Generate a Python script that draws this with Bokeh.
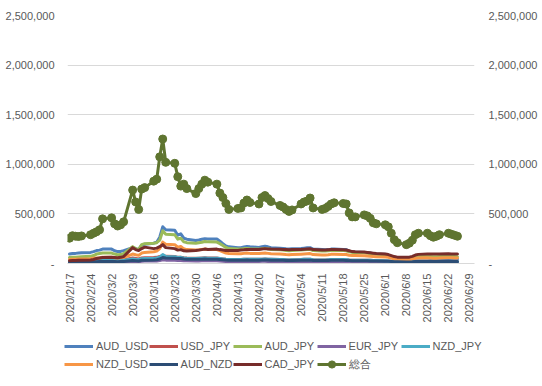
import math
import pandas as pd
from bokeh.plotting import figure
from bokeh.layouts import column
from bokeh.models import (ColumnDataSource, Range1d, LinearAxis, FixedTicker,
                          CustomJSTickFormatter, Legend, LegendItem)
from bokeh.embed import file_html
from bokeh.resources import INLINE

# ---- data (values in thousands) ----
dates = pd.bdate_range("2020-02-17", "2020-06-25")
tick_dates = pd.date_range("2020-02-17", "2020-06-29", freq="7D")

AUD_USD = [95, 100, 102, 105, 108, 112, 120, 130, 135, 145, 145, 128, 120, 122, 130,
           160, 150, 140, 185, 195, 205, 215, 265, 370, 340, 335, 285, 300, 255, 245,
           232, 238, 245, 250, 248, 248, 225, 200, 178, 168, 160, 160, 166, 172, 168,
           162, 170, 175, 168, 160, 155, 152, 148, 145, 148, 152, 155, 158, 160, 145,
           140, 138, 140, 145, 146, 142, 140, 125, 118, 115, 112, 110, 105, 98, 95,
           92, 85, 72, 60, 55, 45, 45, 48, 52, 55, 52, 50, 48, 48, 50, 48, 46, 45, 45]
USD_JPY = [18, 20, 20, 22, 22, 25, 28, 30, 30, 35, 38, 35, 32, 34, 36,
           55, 50, 45, 55, 58, 60, 62, 70, 80, 72, 70, 62, 64, 58, 55,
           52, 54, 56, 58, 56, 55, 50, 46, 42, 40, 40, 40, 42, 44, 42,
           42, 44, 45, 43, 42, 40, 40, 38, 36, 38, 40, 42, 42, 44, 38,
           36, 36, 38, 40, 40, 40, 40, 36, 34, 34, 34, 33, 32, 30, 30,
           28, 26, 22, 18, 16, 15, 15, 16, 18, 20, 20, 19, 18, 18, 19, 20, 19, 19, 18]
AUD_JPY = [60, 62, 64, 66, 68, 72, 80, 95, 100, 105, 105, 95, 88, 90, 100,
           170, 150, 140, 190, 200, 205, 210, 235, 330, 295, 290, 245, 255, 218, 210,
           205, 210, 215, 222, 218, 216, 200, 182, 162, 150, 146, 146, 150, 152, 148,
           145, 150, 152, 148, 142, 138, 136, 132, 128, 132, 136, 138, 140, 142, 130,
           126, 126, 128, 132, 132, 130, 128, 118, 112, 110, 108, 104, 100, 95, 92,
           88, 82, 72, 62, 56, 54, 55, 60, 66, 70, 72, 70, 68, 68, 70, 72, 70, 70, 68]
EUR_JPY = [8, 8, 9, 9, 10, 10, 11, 12, 12, 14, 14, 13, 12, 13, 14,
           20, 18, 17, 22, 24, 25, 26, 30, 38, 34, 33, 30, 30, 28, 27,
           26, 26, 27, 28, 27, 27, 25, 23, 21, 20, 20, 20, 21, 22, 21,
           21, 22, 22, 21, 20, 20, 19, 19, 18, 19, 20, 21, 21, 22, 19,
           18, 18, 19, 20, 20, 20, 19, 18, 17, 17, 17, 16, 16, 15, 15,
           14, 13, 12, 10, 9, 9, 9, 10, 11, 12, 12, 11, 11, 11, 11, 12, 11, 11, 11]
NZD_JPY = [20, 21, 22, 22, 23, 24, 26, 28, 30, 34, 34, 32, 30, 31, 33,
           45, 42, 40, 48, 50, 52, 55, 65, 90, 70, 68, 60, 62, 55, 52,
           50, 52, 54, 56, 54, 54, 50, 46, 42, 40, 40, 40, 42, 44, 42,
           42, 44, 45, 43, 42, 40, 40, 38, 36, 38, 40, 42, 43, 44, 38,
           36, 36, 38, 40, 40, 40, 40, 36, 34, 34, 34, 33, 32, 30, 30,
           28, 26, 22, 18, 16, 15, 15, 17, 19, 21, 21, 20, 19, 19, 20, 21, 20, 20, 19]
NZD_USD = [40, 42, 44, 45, 46, 48, 52, 56, 58, 62, 62, 58, 55, 57, 62,
           95, 88, 82, 105, 112, 118, 125, 150, 215, 195, 190, 165, 172, 148, 140,
           135, 138, 142, 146, 142, 140, 130, 118, 106, 100, 98, 98, 102, 105, 102,
           100, 104, 106, 102, 98, 95, 94, 90, 88, 90, 94, 96, 98, 100, 90,
           86, 86, 88, 92, 92, 90, 90, 84, 80, 80, 78, 76, 74, 70, 68,
           66, 62, 54, 46, 42, 40, 40, 45, 52, 56, 58, 56, 54, 54, 56, 58, 57, 56, 55]
AUD_NZD = [12, 13, 13, 14, 14, 15, 16, 18, 19, 20, 20, 19, 18, 19, 20,
           30, 28, 26, 32, 34, 36, 38, 45, 60, 55, 54, 50, 50, 46, 44,
           42, 43, 44, 45, 44, 44, 41, 38, 35, 33, 33, 33, 34, 35, 34,
           34, 35, 36, 35, 34, 33, 32, 31, 30, 31, 32, 33, 33, 34, 31,
           30, 30, 31, 32, 32, 32, 31, 29, 28, 28, 27, 27, 26, 25, 24,
           23, 22, 20, 18, 17, 16, 16, 17, 19, 20, 21, 20, 20, 20, 21, 22, 21, 21, 21]
CAD_JPY = [28, 30, 30, 32, 33, 35, 40, 50, 55, 60, 62, 60, 58, 62, 70,
           160, 140, 130, 150, 165, 150, 155, 170, 190, 160, 150, 135, 140, 128, 126,
           130, 135, 140, 145, 142, 145, 140, 136, 132, 130, 132, 135, 138, 142, 140,
           142, 146, 150, 147, 145, 143, 142, 140, 138, 140, 142, 144, 146, 148, 140,
           136, 136, 138, 140, 140, 138, 136, 128, 120, 118, 115, 112, 108, 104, 100,
           96, 90, 80, 70, 64, 62, 64, 72, 85, 92, 96, 95, 95, 96, 97, 98, 97, 97, 97]
TOTAL = [255, 280, 275, 272, 278, 290, 305, 320, 340, 450, 460, 400, 378, 390, 420,
         740, 620, 545, 750, 765, 830, 850, 1075, 1255, 1020, 1010, 875, 780, 800, 755,
         705, 755, 800, 840, 820, 800, 710, 665, 605, 545, 555, 560, 610, 640, 615,
         600, 665, 685, 655, 625, 585, 570, 545, 525, 540, 600, 620, 630, 660, 560,
         545, 555, 575, 600, 612, 605, 600, 510, 470, 470, 490, 480, 455, 410, 400,
         390, 370, 305, 240, 210, 190, 205, 235, 290, 305, 305, 280, 265, 275, 290,
         305, 295, 285, 275]

series_names = ["AUD_USD", "USD_JPY", "AUD_JPY", "EUR_JPY", "NZD_JPY",
                "NZD_USD", "AUD_NZD", "CAD_JPY"]
series_vals = [AUD_USD, USD_JPY, AUD_JPY, EUR_JPY, NZD_JPY, NZD_USD, AUD_NZD, CAD_JPY]
colors = ["#4F81BD", "#C0504D", "#9BBB59", "#8064A2", "#4BACC6",
          "#F79646", "#2C4D75", "#772C2A"]
total_name = "総合"
total_color = "#5F7530"
y_ticks = [0, 500000, 1000000, 1500000, 2000000, 2500000]

data = {"date": dates}
for n, v in zip(series_names, series_vals):
    data[n] = [x * 1000 for x in v]
data["total"] = [x * 1000 for x in TOTAL]
src = ColumnDataSource(data)

def ms(ts):
    return ts.value / 1e6

x_start = ms(pd.Timestamp("2020-02-17") - pd.Timedelta(hours=16))
x_end = ms(pd.Timestamp("2020-06-29") + pd.Timedelta(hours=40))

FONT = "Liberation Sans"
TXT = "#595959"
GRID = "#D9D9D9"
W = 540
H_MAIN = 330
H_LEG = 55

p = figure(width=W, height=H_MAIN, x_axis_type="datetime",
           x_range=Range1d(x_start, x_end), y_range=Range1d(0, 2500000),
           output_backend="svg", toolbar_location=None,
           min_border_left=67, min_border_right=W - 475, min_border_top=15,
           min_border_bottom=H_MAIN - 263)
p.frame_align = False
p.outline_line_color = None
p.background_fill_color = "white"
p.border_fill_color = "white"

# x axis
xa = p.xaxis[0]
xa.ticker = FixedTicker(ticks=[ms(t) for t in tick_dates])
xa.formatter = CustomJSTickFormatter(code="""
const d = new Date(tick);
return d.getUTCFullYear() + '/' + (d.getUTCMonth() + 1) + '/' + d.getUTCDate();
""")
xa.major_label_orientation = math.pi / 2
xa.axis_line_color = GRID
xa.major_tick_line_color = None
xa.minor_tick_line_color = None
xa.major_label_standoff = 4
xa.major_label_text_font = FONT
xa.major_label_text_font_size = "11px"
xa.major_label_text_color = TXT

yfmt = CustomJSTickFormatter(code="return tick == 0 ? '-' : tick.toLocaleString('en-US');")
ya = p.yaxis[0]
ya2 = LinearAxis()
p.add_layout(ya2, "right")
for ax, st in ((ya, 7), (ya2, 8)):
    ax.ticker = FixedTicker(ticks=y_ticks)
    ax.formatter = yfmt
    ax.axis_line_color = None
    ax.major_tick_line_color = None
    ax.minor_tick_line_color = None
    ax.major_label_standoff = st
    ax.major_label_text_font = FONT
    ax.major_label_text_font_size = "11px"
    ax.major_label_text_color = TXT

p.xgrid.visible = False
p.ygrid.ticker = FixedTicker(ticks=y_ticks[1:])
p.ygrid.grid_line_color = GRID

for n, c in zip(series_names, colors):
    p.line(x="date", y=n, source=src, line_color=c, line_width=3,
           line_join="round", line_cap="round")
p.line(x="date", y="total", source=src, line_color=total_color, line_width=3,
       line_join="round", line_cap="round")
p.scatter(x="date", y="total", source=src, size=8, fill_color=total_color,
          line_color=total_color)

# ---- legend strip (its own frame; the series lie outside its ranges) ----
lg = figure(width=W, height=H_LEG, x_range=Range1d(0, 1), y_range=Range1d(0, 1),
            output_backend="svg", toolbar_location=None,
            x_axis_location=None, y_axis_location=None,
            min_border_left=0, min_border_right=0, min_border_top=0,
            min_border_bottom=0)
lg.frame_align = False
lg.outline_line_color = None
lg.xgrid.visible = False
lg.ygrid.visible = False
items = []
for n, c in zip(series_names, colors):
    r = lg.line(x="date", y=n, source=src, line_color=c, line_width=3)
    items.append(LegendItem(label=n, renderers=[r]))
rl = lg.line(x="date", y="total", source=src, line_color=total_color, line_width=3)
rs = lg.scatter(x="date", y="total", source=src, size=8, fill_color=total_color,
                line_color=total_color)
items.append(LegendItem(label=total_name, renderers=[rl, rs]))

legend = Legend(items=items, ncols=5, orientation="horizontal",
                location=(64, H_LEG - 43), glyph_width=29, glyph_height=18,
                label_standoff=3, label_width=52, spacing=0, padding=0, margin=0,
                border_line_color=None, background_fill_alpha=0,
                label_text_font=FONT, label_text_font_size="11px",
                label_text_color=TXT)
lg.add_layout(legend)

layout = column(p, lg, spacing=0)
open("out.html", "w").write(file_html(layout, INLINE))
